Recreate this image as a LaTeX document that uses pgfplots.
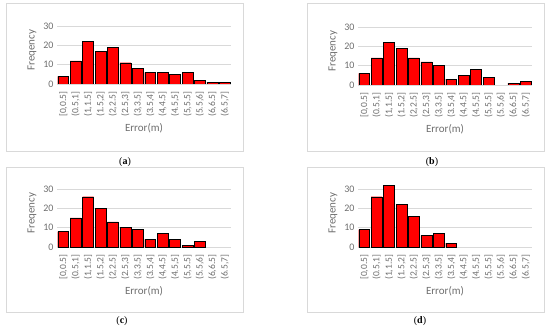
\documentclass[border=0pt]{standalone}
\usepackage{pgfplots}
\pgfplotsset{compat=1.18}
\usepackage{fontspec}
\setmainfont{Carlito}
\newfontfamily\capfont{Liberation Serif}
\definecolor{txt}{HTML}{6E6E6E}
\definecolor{grd}{HTML}{D9D9D9}
\definecolor{brd}{HTML}{D9D9D9}
\definecolor{barfill}{HTML}{FF0000}
\definecolor{baredge}{HTML}{A82400}
\pgfplotsset{hist/.style={
  scale only axis, width=174pt, height=67.67pt,
  anchor=south west,
  ymin=0, ymax=35, ytick={0,10,20,30},
  xmin=-0.5, xmax=13.5, xtick={0,...,13},
  xticklabels={{[0,0.5]},{(0.5,1]},{(1,1.5]},{(1.5,2]},{(2,2.5]},{(2.5,3]},{(3,3.5]},{(3.5,4]},{(4,4.5]},{(4.5,5]},{(5,5.5]},{(5.5,6]},{(6,6.5]},{(6.5,7]}},
  x tick label style={rotate=90, anchor=east, font=\fontsize{9.5}{10}\selectfont, text=txt},
  y tick label style={font=\fontsize{10}{11}\selectfont, text=txt},
  /pgf/number format/assume math mode=true,
  ymajorgrids, grid style={grd, line width=0.75pt},
  axis line style={draw=none}, tick style={draw=none},
  xlabel={Error(m)}, ylabel={Freqency},
  label style={font=\fontsize{11}{12}\selectfont, text=txt},
  ybar, bar width=0.88,
  cycle list={{fill=barfill, draw=baredge, line width=1pt}},
}}
\begin{document}
\begin{tikzpicture}[x=1pt,y=1pt]
\path (0,0) rectangle (550,330);
\draw[brd, line width=0.6pt] (6,179) rectangle (243,327);
\draw[brd, line width=0.6pt] (307,179) rectangle (544,327);
\draw[brd, line width=0.6pt] (6,18) rectangle (243,163);
\draw[brd, line width=0.6pt] (307,18) rectangle (544,163);
% (a)
\begin{axis}[hist, at={(57pt,246pt)}]
\addplot coordinates {(0,4) (1,12) (2,22) (3,17) (4,19) (5,11) (6,8) (7,6) (8,6) (9,5) (10,6) (11,2) (12,1) (13,1)};
\end{axis}
% (b)
\begin{axis}[hist, at={(358pt,245pt)}]
\addplot coordinates {(0,6) (1,14) (2,22) (3,19) (4,14) (5,12) (6,10) (7,3) (8,5) (9,8) (10,4) (12,1) (13,2)};
\end{axis}
% (c)
\begin{axis}[hist, at={(57pt,83pt)}]
\addplot coordinates {(0,8) (1,15) (2,26) (3,20) (4,13) (5,10) (6,9) (7,4) (8,7) (9,4) (10,1) (11,3)};
\end{axis}
% (d)
\begin{axis}[hist, at={(358pt,83pt)}]
\addplot coordinates {(0,9) (1,26) (2,32) (3,22) (4,16) (5,6) (6,7) (7,2)};
\end{axis}
\node[font=\capfont\fontsize{10}{11}\selectfont] at (125,168) {(\textbf{a})};
\node[font=\capfont\fontsize{10}{11}\selectfont] at (432,168) {(\textbf{b})};
\node[font=\capfont\fontsize{10}{11}\selectfont] at (122,9) {(\textbf{c})};
\node[font=\capfont\fontsize{10}{11}\selectfont] at (420,9) {(\textbf{d})};
\end{tikzpicture}
\end{document}
